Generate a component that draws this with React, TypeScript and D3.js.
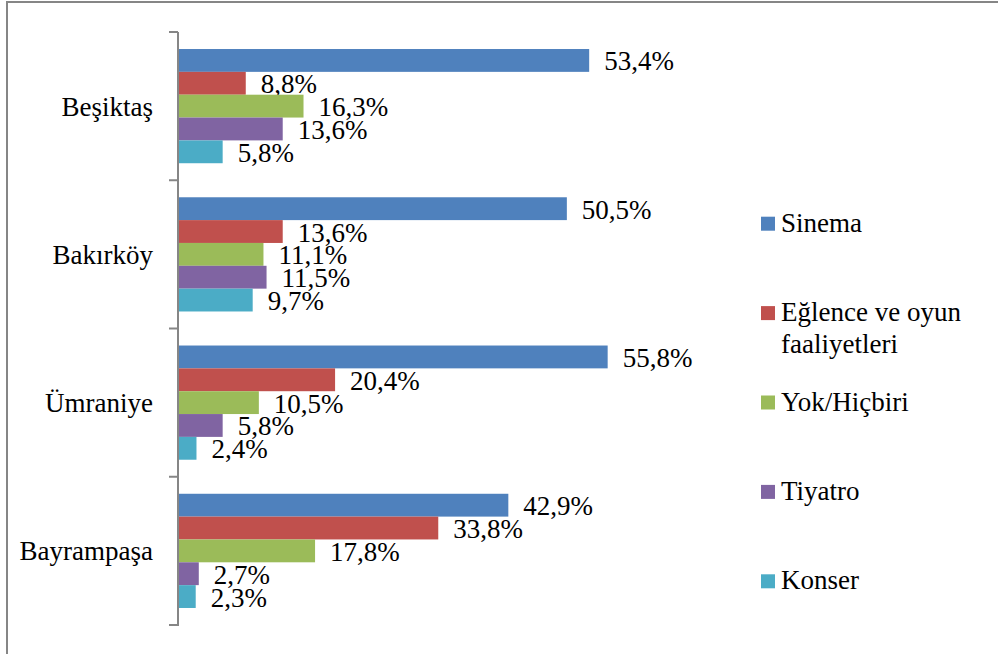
import React from "react";
import * as d3 from "d3";

const categories = ["Beşiktaş", "Bakırköy", "Ümraniye", "Bayrampaşa"];
const seriesNames = ["Sinema", "Eğlence ve oyun faaliyetleri", "Yok/Hiçbiri", "Tiyatro", "Konser"];
const legendLines = [["Sinema"], ["Eğlence ve oyun", "faaliyetleri"], ["Yok/Hiçbiri"], ["Tiyatro"], ["Konser"]];
const colors = ["#4F81BD", "#C0504D", "#9BBB59", "#8064A2", "#4BACC6"];

// one array per series, in category order
const sinema = [53.4, 50.5, 55.8, 42.9];
const eglence = [8.8, 13.6, 20.4, 33.8];
const yok = [16.3, 11.1, 10.5, 17.8];
const tiyatro = [13.6, 11.5, 5.8, 2.7];
const konser = [5.8, 9.7, 2.4, 2.3];
const values = [sinema, eglence, yok, tiyatro, konser];

const W = 998;
const H = 654;

const App = () => {
  const axisX = 178;
  const top = 32;
  const bottom = 625;

  const x = d3.scaleLinear().domain([0, 60]).range([axisX, axisX + 462]);
  const y = d3.scaleBand().domain(categories).range([top, bottom]).padding(0);
  const inner = d3
    .scaleBand<number>()
    .domain(d3.range(seriesNames.length))
    .range([0, y.bandwidth()])
    .paddingInner(0)
    .paddingOuter(0.745);

  const fmt = (v: number) => v.toFixed(1).replace(".", ",") + "%";
  const ticks = categories.map((c) => y(c) as number).concat([bottom]);

  return (
    <svg width={W} height={H} style={{ position: "absolute", left: 0, top: 0 }}>
      <style>{`.lbl { font-family: "Times New Roman", "Liberation Serif", Tinos, Times; font-size: 27px; fill: #000; }`}</style>
      <rect x={0} y={0} width={W} height={H} fill="#fff" />
      <rect x={7} y={2} width={W + 10} height={H + 10} fill="none" stroke="#868686" strokeWidth={2} />

      {/* bars and labels */}
      {categories.map((c, ci) => (
        <g key={c} transform={`translate(0,${y(c)})`}>
          {values.map((s, si) => {
            const by = inner(si) as number;
            const bh = inner.bandwidth();
            return (
              <g key={si}>
                <rect x={x(0)} y={by} width={x(s[ci]) - x(0)} height={bh} fill={colors[si]} />
                <text className="lbl" x={x(s[ci]) + 15} y={by + bh / 2 + 10}>
                  {fmt(s[ci])}
                </text>
              </g>
            );
          })}
        </g>
      ))}

      {/* category axis */}
      <line x1={axisX} x2={axisX} y1={top} y2={bottom + 1} stroke="#868686" strokeWidth={2} />
      {ticks.map((t, i) => (
        <line key={i} x1={axisX - 9} x2={axisX} y1={t} y2={t} stroke="#868686" strokeWidth={2} />
      ))}
      {categories.map((c) => (
        <text key={c} className="lbl" x={153} y={(y(c) as number) + y.bandwidth() / 2 + 9.5} textAnchor="end">
          {c}
        </text>
      ))}

      {/* legend */}
      {legendLines.map((lines, i) => {
        const base = 231.7 + i * 89.4;
        return (
          <g key={i}>
            <rect x={761} y={base - 15} width={14} height={14} fill={colors[i]} />
            {lines.map((l, li) => (
              <text key={li} className="lbl" x={781} y={base + li * 31.5}>
                {l}
              </text>
            ))}
          </g>
        );
      })}
    </svg>
  );
};

export default App;
